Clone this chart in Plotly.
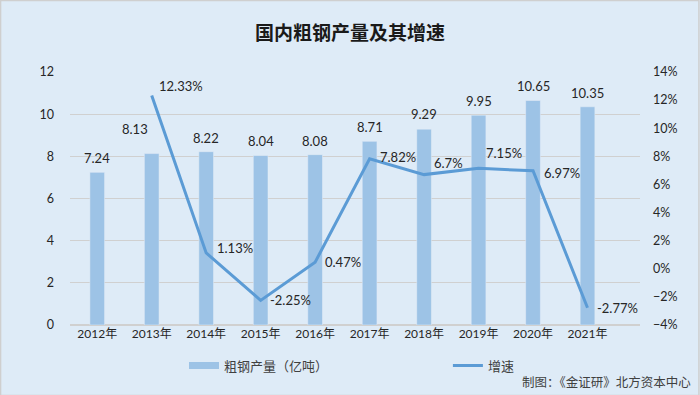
import plotly.graph_objects as go

years = ["2012年", "2013年", "2014年", "2015年", "2016年", "2017年", "2018年", "2019年", "2020年", "2021年"]
output = [7.24, 8.13, 8.22, 8.04, 8.08, 8.71, 9.29, 9.95, 10.65, 10.35]
growth_years = years[1:]
growth = [12.33, 1.13, -2.25, 0.47, 7.82, 6.7, 7.15, 6.97, -2.77]
growth_labels = ["12.33%", "1.13%", "-2.25%", "0.47%", "7.82%", "6.7%", "7.15%", "6.97%", "-2.77%"]

# label offsets (px) for hand-placed labels
bar_shift = [(0, 14), (-17, 25), (0, 14), (0, 14), (0, 14), (0, 14), (0, 15), (0, 14), (0, 14), (0, 14)]
line_shift = [(29, 9), (29, 5), (30, 0), (28, 0), (28, 2), (24, 12), (25, 15), (29, -2), (30, 0)]

BG = "#DEEBF7"
BAR = "#9DC3E6"
LINE = "#5B9BD5"
TXT = "#262626"
AX = "#404040"
FONT = "Lato, 'Noto Sans CJK SC', sans-serif"
CJK = "'Noto Sans CJK SC', sans-serif"

fig = go.Figure()
fig.add_trace(go.Bar(x=years, y=output, name="粗钢产量（亿吨）", marker_color=BAR,
                     width=0.27, showlegend=False, hoverinfo="x+y"))
# legend proxy for the bar series (wide flat swatch as in the reference)
fig.add_trace(go.Scatter(x=[None], y=[None], name="粗钢产量（亿吨）", mode="lines",
                         line=dict(color=BAR, width=7), legend="legend"))
fig.add_trace(go.Scatter(x=growth_years, y=growth, name="增速", mode="lines",
                         line=dict(color=LINE, width=3), yaxis="y2", legend="legend2"))

ann = []
for x, v, (dx, dy) in zip(years, output, bar_shift):
    ann.append(dict(x=x, y=v, xref="x", yref="y", text=f"{v:.2f}", showarrow=False,
                    xshift=dx, yshift=dy, font=dict(size=13, color=TXT, family=FONT)))
for x, v, t, (dx, dy) in zip(growth_years, growth, growth_labels, line_shift):
    ann.append(dict(x=x, y=v, xref="x", yref="y2", text=t, showarrow=False,
                    xshift=dx, yshift=dy, font=dict(size=13, color=TXT, family=FONT)))
ann.append(dict(x=1.0, xref="paper", xanchor="right", xshift=53, y=-0.225, yref="paper",
                yanchor="middle", text="制图：《金证研》北方资本中心", showarrow=False,
                font=dict(size=12.5, color=AX, family=CJK)))

fig.update_layout(
    width=700, height=395,
    margin=dict(l=70, r=60, t=72, b=70),
    paper_bgcolor=BG, plot_bgcolor=BG,
    title=dict(text="<b>国内粗钢产量及其增速</b>", x=0.5, xanchor="center", y=0.915, yanchor="middle",
               font=dict(size=19, color="#1a1a1a", family=CJK)),
    font=dict(family=FONT, size=12, color=AX),
    xaxis=dict(showgrid=False, ticks="", showline=False, tickfont=dict(size=12, color=TXT)),
    yaxis=dict(range=[0, 12], dtick=2, showgrid=True, gridcolor="#D0D0D0", gridwidth=1,
               zeroline=True, zerolinecolor="#D0D0D0", ticks="", ticklabelstandoff=15,
               tickfont=dict(size=12.5, color=TXT)),
    yaxis2=dict(range=[-4, 14], dtick=2, overlaying="y", side="right", showgrid=False,
                zeroline=False, ticksuffix="%", ticks="", ticklabelstandoff=12,
                tickfont=dict(size=12.5, color=TXT)),
    legend=dict(orientation="h", x=0.2, y=-0.16, xanchor="left", yanchor="middle",
                bgcolor="rgba(0,0,0,0)", font=dict(size=13, color=AX, family=CJK)),
    legend2=dict(orientation="h", x=0.663, y=-0.16, xanchor="left", yanchor="middle",
                 bgcolor="rgba(0,0,0,0)", font=dict(size=13, color=AX, family=CJK)),
    annotations=ann,
    shapes=[dict(type="rect", xref="paper", yref="paper", x0=-0.1218, x1=1.1034, y0=-0.2787, y1=1.2826,
                 line=dict(color="#CFCFCF", width=1.5), fillcolor="rgba(0,0,0,0)", layer="below")],
    showlegend=True,
)

fig.write_html("out.html", config={"displayModeBar": False},
               post_script="document.body.style.margin='0';document.body.style.overflow='hidden';")
